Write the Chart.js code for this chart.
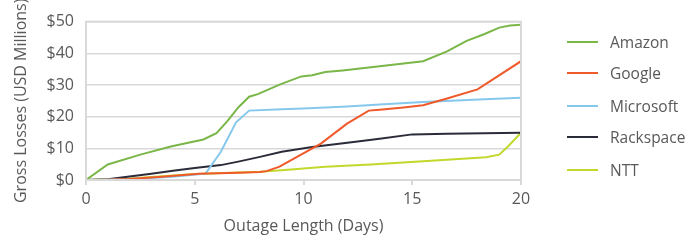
<!DOCTYPE html>
<html lang="en">
<head>
  <meta charset="UTF-8">
  <title>Gross Losses by Outage Length</title>
  <style>
    html, body { margin: 0; padding: 0; background: #fff; }
    .wrap { position: relative; width: 700px; height: 243px; font-family: "Open Sans", sans-serif; }
    #lossChart { position: absolute; left: 0; top: 0; }
    .legend-item { position: absolute; left: 567px; height: 20px; display: flex; align-items: center; }
    .legend-line { width: 31px; height: 2px; margin-right: 12px; }
    .legend-text { font-size: 15.5px; color: #595959; white-space: nowrap; }
  </style>
</head>
<body>
  <div class="wrap">
    <canvas id="lossChart" width="700" height="243"></canvas>
    <div id="legend"></div>
  </div>

  <script src="https://cdn.jsdelivr.net/npm/chart.js"></script>
  <script>
    // values (days, USD millions)
    const seriesNames = ['Amazon', 'Google', 'Microsoft', 'Rackspace', 'NTT'];
    const seriesColors = ['#7ab648', '#f05a2a', '#86c8ec', '#2b2c3a', '#c3d82c'];

    const amazonDays = [0, 1, 2.5, 3.9, 5.4, 6, 6.5, 7, 7.5, 7.9, 8.9, 9.9, 10.4, 11, 11.8, 13.5, 15.5, 16.6, 17.5, 18.3, 19, 19.5, 20];
    const amazonLoss = [0, 4.9, 8, 10.6, 12.8, 14.8, 18.6, 22.9, 26.3, 27.1, 30.1, 32.7, 33.1, 34.1, 34.6, 35.9, 37.5, 40.6, 43.9, 46, 48.1, 48.8, 49];

    const googleDays = [0, 1, 2, 3.5, 5.2, 7, 8, 8.3, 8.9, 9.7, 10.8, 12, 13, 13.5, 14.6, 15.5, 16.6, 18, 20];
    const googleLoss = [0, 0.1, 0.3, 1, 2, 2.3, 2.5, 2.8, 4.2, 7.3, 11.5, 17.8, 21.9, 22.2, 22.9, 23.6, 25.7, 28.6, 37.5];

    const microsoftDays = [0, 2, 4, 5.5, 6.2, 6.9, 7.5, 9, 10, 12, 13.5, 15.5, 17.8, 20];
    const microsoftLoss = [0, 0.3, 1, 2, 8.9, 18.2, 21.9, 22.3, 22.6, 23.2, 23.8, 24.6, 25.3, 26];

    const rackspaceDays = [0, 1, 2, 3, 4, 5, 6.2, 7, 8, 9, 10.4, 12.3, 13.5, 15, 16.6, 20];
    const rackspaceLoss = [0, 0.2, 1.1, 2, 2.9, 3.8, 4.7, 5.8, 7.3, 8.9, 10.4, 12, 13, 14.4, 14.6, 14.9];

    const nttDays = [0, 2, 5, 8, 9, 11, 13.1, 15.5, 17.5, 18.4, 19, 19.4, 20];
    const nttLoss = [0, 0.5, 1.9, 2.6, 3.1, 4.2, 4.9, 5.9, 6.8, 7.2, 8, 10.6, 14.9];

    const dayTicks = [0, 5, 10, 15, 20];
    const lossTicks = [0, 10, 20, 30, 40, 50];

    const allDays = [amazonDays, googleDays, microsoftDays, rackspaceDays, nttDays];
    const allLoss = [amazonLoss, googleLoss, microsoftLoss, rackspaceLoss, nttLoss];

    const textColor = '#595959';
    const gridColor = '#d9d9d9';
    const font = { family: '"Open Sans", sans-serif', size: 16 };

    // grey frame round the plot area
    const framePlugin = {
      id: 'frame',
      afterDraw(chart) {
        const a = chart.chartArea;
        const c = chart.ctx;
        c.save();
        c.strokeStyle = gridColor;
        c.lineWidth = 2;
        c.strokeRect(a.left, a.top, a.right - a.left, a.bottom - a.top);
        c.restore();
      }
    };

    const datasets = seriesNames.map((name, i) => ({
      label: name,
      data: allDays[i].map((d, j) => ({ x: d, y: allLoss[i][j] })),
      borderColor: seriesColors[i],
      backgroundColor: seriesColors[i],
      borderWidth: 2,
      pointRadius: 0,
      tension: 0,
      fill: false
    }));

    new Chart(document.getElementById('lossChart'), {
      type: 'line',
      data: { datasets: datasets },
      plugins: [framePlugin],
      options: {
        responsive: false,
        animation: false,
        layout: { padding: { top: 20, right: 179, left: 0, bottom: 0 } },
        plugins: { legend: { display: false }, tooltip: { enabled: false } },
        scales: {
          x: {
            type: 'linear',
            min: 0,
            max: 20,
            afterFit: s => { s.height = 63; },
            afterBuildTicks: s => { s.ticks = dayTicks.map(v => ({ value: v })); },
            ticks: { color: textColor, font: font, padding: 5, maxRotation: 0 },
            grid: { drawOnChartArea: false, tickLength: 5, color: gridColor, lineWidth: 2 },
            border: { display: true, color: gridColor, width: 2 },
            title: { display: true, text: 'Outage Length (Days)', color: textColor, font: font, padding: { top: 0, bottom: 7 } }
          },
          y: {
            min: 0,
            max: 50,
            afterFit: s => { s.width = 86; },
            afterBuildTicks: s => { s.ticks = lossTicks.map(v => ({ value: v })); },
            ticks: { color: textColor, font: font, padding: 12, callback: v => '$' + v },
            grid: { color: gridColor, lineWidth: 1.5, tickLength: 0 },
            border: { display: true, color: gridColor, width: 2 },
            title: { display: true, text: 'Gross Losses (USD Millions)', color: textColor, font: font, padding: { top: 12, bottom: 0 } }
          }
        }
      }
    });

    // legend, drawn as html on the right
    const legendTops = [32, 63, 96, 127, 160];
    const legend = document.getElementById('legend');
    seriesNames.forEach((name, i) => {
      const item = document.createElement('div');
      item.className = 'legend-item';
      item.style.top = legendTops[i] + 'px';
      item.innerHTML = '<span class="legend-line" style="background:' + seriesColors[i] + '"></span><span class="legend-text">' + name + '</span>';
      legend.appendChild(item);
    });
  </script>
</body>
</html>
